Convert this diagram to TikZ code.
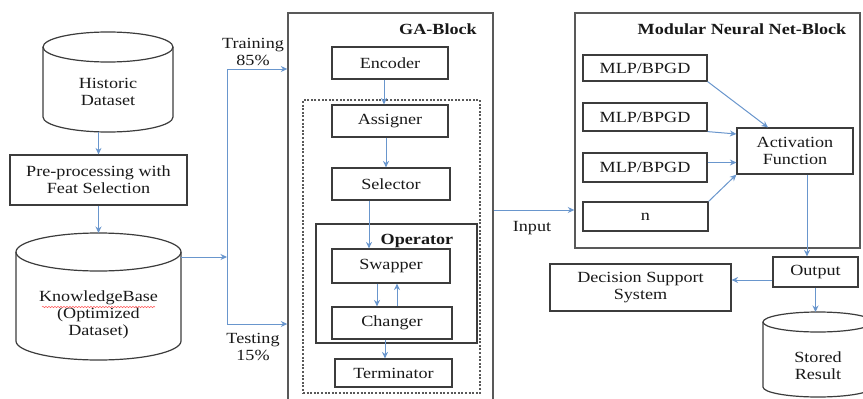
\documentclass[tikz,border=0pt]{standalone}
\usepackage{fontspec}
\setmainfont{Liberation Serif}[FakeStretch=1.17]
\usetikzlibrary{arrows.meta,decorations.pathmorphing}
\definecolor{arr}{RGB}{105,150,205}
\definecolor{edge}{RGB}{60,60,60}
\definecolor{txt}{RGB}{25,25,25}
\tikzset{
 box/.style={draw=edge, line width=1.2pt, inner sep=0pt, text=txt, align=center, font=\fontsize{15.5}{17}\selectfont},
 lbl/.style={inner sep=0pt, text=txt, align=center, font=\fontsize{15.5}{17}\selectfont},
 ttl/.style={inner sep=0pt, text=txt, font=\fontsize{15.5}{17}\selectfont\bfseries},
 flow/.style={draw=arr, line width=1pt, -{Stealth[length=6.5pt,width=6pt]}},
 plainline/.style={draw=arr, line width=1pt},
 cyl/.style={draw=edge, line width=1.2pt},
 frame/.style={draw=edge!85, line width=1.4pt, inner sep=0pt},
 ghost/.style={inner sep=0pt, outer sep=0pt},
}
\begin{document}
\begin{tikzpicture}[x=1pt,y=-1pt]
\useasboundingbox (0,0) rectangle (863,399);
\fill[white] (0,0) rectangle (863,399);
\clip (0,0) rectangle (863,399);

% ---------- Historic dataset cylinder ----------
\node[ghost, minimum width=130pt, minimum height=100pt] (hist) at (108,82) {};
\draw[cyl] (108,47) ellipse [x radius=65pt, y radius=15pt];
\draw[cyl] (43,47) -- (43,117) arc[start angle=180, end angle=360, x radius=65pt, y radius=15pt] -- (173,47);
\node[lbl] (histtxt) at (108,92) {Historic\\Dataset};

% ---------- Pre-processing ----------
\node[box, minimum width=177pt, minimum height=50pt] (pre) at (98.5,180) {Pre-processing with\\Feat Selection};

% ---------- KnowledgeBase cylinder ----------
\node[ghost, minimum width=165pt, minimum height=127pt] (kb) at (98.5,296.5) {};
\draw[cyl] (98.5,252) ellipse [x radius=82.5pt, y radius=19pt];
\draw[cyl] (16,252) -- (16,341) arc[start angle=180, end angle=360, x radius=82.5pt, y radius=19pt] -- (181,252);
\node[lbl] (kbtxt) at (98.5,314.5) {KnowledgeBase\\(Optimized\\Dataset)};
\draw[red!65, line width=0.5pt, decorate, decoration={snake, amplitude=0.7pt, segment length=3pt}] (42,307) -- (155,307);

% ---------- Training / Testing split ----------
\coordinate (split) at (227,257);
\coordinate (trtop) at (227,69);
\coordinate (tebot) at (227,324);
\node[lbl] (train) at (253,52) {Training\\85\%};
\node[lbl] (test) at (253,346.5) {Testing\\15\%};

% ---------- GA block ----------
\node[frame, minimum width=205pt, minimum height=390pt] (ga) at (390.5,208) {};
\node[ttl] (gattl) at (438,29) {GA-Block};
\node[box, minimum width=116pt, minimum height=32pt] (enc) at (390,63) {Encoder};
\node[draw=edge!85, line width=1.1pt, dash pattern=on 2pt off 1.6pt, minimum width=177pt, minimum height=293pt, inner sep=0pt] (dsh) at (391.5,246.5) {};
\node[box, minimum width=116pt, minimum height=32pt] (asg) at (390,121) {Assigner};
\node[box, minimum width=118pt, minimum height=32pt] (sel) at (391,184) {Selector};
\node[box, minimum width=161pt, minimum height=119pt] (op) at (396.5,283.5) {};
\node[ttl] (opttl) at (417,241) {Operator};
\node[box, minimum width=118pt, minimum height=34pt] (swp) at (391,266) {Swapper};
\node[box, minimum width=120pt, minimum height=32pt] (chg) at (392,323) {Changer};
\node[box, minimum width=117pt, minimum height=28pt] (term) at (393.5,373) {Terminator};

% ---------- Modular neural net block ----------
\node[frame, minimum width=285pt, minimum height=235pt] (mnn) at (717.5,130.5) {};
\node[ttl] (mnnttl) at (742,29) {Modular Neural Net-Block};
\node[box, minimum width=124pt, minimum height=26pt] (m1) at (645,68) {MLP/BPGD};
\node[box, minimum width=124pt, minimum height=28pt] (m2) at (645,117) {MLP/BPGD};
\node[box, minimum width=124pt, minimum height=29pt] (m3) at (645,167.5) {MLP/BPGD};
\node[box, minimum width=125pt, minimum height=29pt] (mn) at (645.5,216.5) {n};
\node[box, minimum width=116pt, minimum height=46pt] (act) at (795,151) {Activation\\Function};
\node[lbl] (inplbl) at (532,228) {Input};

% ---------- Output side ----------
\node[box, minimum width=85pt, minimum height=30pt] (out) at (815.5,272) {Output};
\node[box, minimum width=181pt, minimum height=47pt] (dss) at (640.5,287.5) {Decision Support\\System};
\node[ghost, minimum width=110pt, minimum height=85pt] (sr) at (818,354.5) {};
\draw[cyl] (818,322) ellipse [x radius=55pt, y radius=10pt];
\draw[cyl] (763,322) -- (763,387) arc[start angle=180, end angle=360, x radius=55pt, y radius=10pt] -- (873,322);
\node[lbl] (srtxt) at (818,365.5) {Stored\\Result};

% ---------- connectors ----------
\draw[flow] (pre.north |- hist.south) -- (pre.north);
\draw[flow] (pre.south) -- (pre.south |- kb.north);
\draw[flow] (kb.east |- split) -- (split);
\draw[plainline] (trtop) -- (tebot);
\draw[flow] (trtop) -- (trtop -| ga.west);
\draw[flow] (tebot) -- (tebot -| ga.west);

\draw[flow] ([xshift=-6pt]enc.south) -- ([xshift=-6pt]enc.south |- asg.north);
\draw[flow] ([xshift=-4pt]asg.south) -- ([xshift=-4pt]asg.south |- sel.north);
\draw[flow] ([xshift=-22pt]sel.south) -- ([xshift=-22pt]sel.south |- swp.north);
\draw[flow] ([xshift=-14pt]swp.south) -- ([xshift=-14pt]swp.south |- chg.north);
\draw[flow] ([xshift=5pt]chg.north) -- ([xshift=5pt]chg.north |- swp.south);
\draw[flow] ([xshift=-7pt]chg.south) -- ([xshift=-7pt]chg.south |- term.north);

\draw[flow] ([yshift=-2pt]ga.east) -- ([yshift=-2pt]ga.east -| mnn.west);

\draw[flow] (m1.south east) -- ([xshift=-27pt]act.north);
\draw[flow] (m2.south east) -- ([yshift=17pt]act.west);
\draw[flow] ([yshift=5pt]m3.east) -- ([yshift=5pt]m3.east -| act.west);
\draw[flow] (mn.north east) -- (act.south west);

\draw[flow] ([xshift=12pt]act.south) -- ([xshift=12pt]act.south |- out.north);
\draw[flow] ([yshift=-8pt]out.west) -- ([yshift=-8pt]out.west -| dss.east);
\draw[flow] (out.south) -- (out.south |- sr.north);
\end{tikzpicture}
\end{document}
